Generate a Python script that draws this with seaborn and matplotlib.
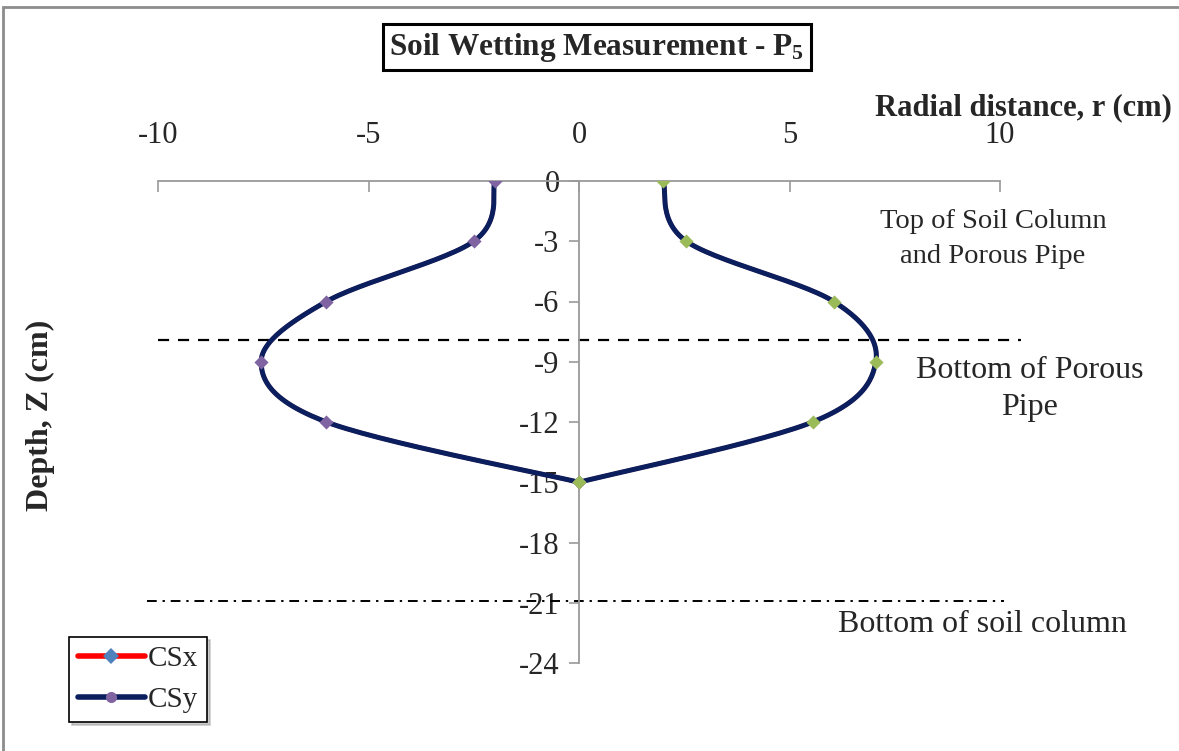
import numpy as np
import pandas as pd
import matplotlib
matplotlib.use("Agg")
import matplotlib.pyplot as plt
from matplotlib.patches import Rectangle
from matplotlib.lines import Line2D
import seaborn as sns

# Measured wetting front: depth (cm) and radial distance (cm)
depth = [0, -3, -6, -9, -12, -15]
r_left = [-2.0, -2.5, -6.0, -7.55, -6.0, 0.0]
r_right = [2.0, 2.55, 6.05, 7.05, 5.55, 0.0]

x_ticks = [-10, -5, 0, 5, 10]
y_ticks = [0, -3, -6, -9, -12, -15, -18, -21, -24]

pipe_bottom = -7.9
column_bottom = -20.9

sns.set_theme(style="white")
plt.rcParams["font.family"] = ["Liberation Serif", "DejaVu Serif"]
plt.rcParams["mathtext.fontset"] = "custom"
plt.rcParams["mathtext.bf"] = "Liberation Serif:bold"
plt.rcParams["mathtext.rm"] = "Liberation Serif"


def smooth(xs, ys, n=30):
    """Bezier smoothing (Catmull-Rom tangents) through the measured points."""
    p = np.column_stack([xs, ys]).astype(float)
    p = np.vstack([p[0], p, p[-1]])
    out = []
    for i in range(1, len(p) - 2):
        p0, p1, p2, p3 = p[i - 1], p[i], p[i + 1], p[i + 2]
        c1 = p1 + (p2 - p0) / 6.0
        c2 = p2 - (p3 - p1) / 6.0
        t = np.linspace(0, 1, n)[:, None]
        seg = ((1 - t) ** 3) * p1 + 3 * ((1 - t) ** 2) * t * c1 + 3 * (1 - t) * t ** 2 * c2 + t ** 3 * p2
        out.append(seg if i == 1 else seg[1:])
    out = np.vstack(out)
    return out[:, 0], out[:, 1]


fig = plt.figure(figsize=(11.79, 7.51), dpi=100)
fig.patch.set_facecolor("white")
fig.add_artist(Rectangle((3 / 1179, -0.1), 1.2, 1 - 7 / 751 + 0.1, transform=fig.transFigure,
                         fill=False, edgecolor="#8c8c8c", lw=2.0, zorder=0))

ax = fig.add_axes([158 / 1179, 1 - 663 / 751, 842 / 1179, 482 / 751])
ax.set_facecolor("none")

navy = "#0b1f5e"
red = "#ff0000"

lx, ly = smooth(r_left, depth)
rx, ry = smooth(r_right, depth)
curve_left = pd.DataFrame({"r": lx, "z": ly})
curve_right = pd.DataFrame({"r": rx, "z": ry})

for cur in (curve_left, curve_right):
    sns.lineplot(data=cur, x="r", y="z", sort=False, estimator=None, ax=ax,
                 color=red, lw=3.0, zorder=3)
    sns.lineplot(data=cur, x="r", y="z", sort=False, estimator=None, ax=ax,
                 color=navy, lw=3.6, zorder=4)

ax.scatter(r_left, depth, marker="D", s=52, color="#8064A2", zorder=5, linewidths=0)
ax.scatter(r_right, depth, marker="D", s=52, color="#9BBB59", zorder=5, linewidths=0)

# Reference levels
ax.plot([-10.0, 10.5], [pipe_bottom, pipe_bottom], color="black", lw=1.6,
        dashes=(5, 4), clip_on=False, zorder=2)
ax.plot([-10.25, 10.1], [column_bottom, column_bottom], color="black", lw=1.4,
        dashes=(5, 3, 1.2, 3), clip_on=False, zorder=2)

ax.set_xlim(-10, 10)
ax.set_ylim(-24, 0)
ax.set_xticks(x_ticks)
ax.set_xticklabels([str(v) for v in x_ticks])
ax.set_yticks(y_ticks)
ax.set_yticklabels([str(v) for v in y_ticks])

for s in ("right", "bottom"):
    ax.spines[s].set_visible(False)
ax.spines["left"].set_position(("data", 0))
for s in ("left", "top"):
    ax.spines[s].set_color("#9a9a9a")
    ax.spines[s].set_linewidth(1.3)
ax.xaxis.tick_top()
ax.tick_params(axis="x", direction="in", length=8, width=1.2, color="#9a9a9a",
               labelsize=22, pad=22, top=True, bottom=False)
ax.tick_params(axis="y", direction="out", length=7, width=1.2, color="#9a9a9a",
               labelsize=22, pad=7, left=True)
ax.set_xlabel("")
ax.set_ylabel("")
ax.grid(False)

fig.text(1172 / 1179, 1 - 108 / 751, "Radial distance, r (cm)", ha="right", va="center",
         fontsize=22, fontweight="bold")
fig.text(40 / 1179, 1 - 415 / 751, "Depth, Z (cm)", ha="center", va="center",
         rotation=90, fontsize=23, fontweight="bold")

fig.text(597 / 1179, 1 - 47 / 751, r"Soil Wetting Measurement - $\mathbf{P_5}$",
         ha="center", va="center", fontsize=22.5, fontweight="bold",
         bbox=dict(boxstyle="square,pad=0.22", facecolor="white", edgecolor="black", lw=2.2))

fig.text(993 / 1179, 1 - 239 / 751, "Top of Soil Column\nand Porous Pipe", ha="center",
         va="center", fontsize=20.5, linespacing=1.5)
fig.text(1030 / 1179, 1 - 389 / 751, "Bottom of Porous\nPipe", ha="center",
         va="center", fontsize=23, linespacing=1.35)
fig.text(982 / 1179, 1 - 625 / 751, "Bottom of soil column", ha="center",
         va="center", fontsize=23)

# Legend
handles = [
    Line2D([], [], color=red, lw=4, marker="D", markersize=8, markerfacecolor="#4F81BD",
           markeredgewidth=0),
    Line2D([], [], color=navy, lw=4, marker="o", markersize=8, markerfacecolor="#8064A2",
           markeredgewidth=0),
]
leg = fig.legend(handles, ["CSx", "CSy"], loc="lower left",
                 bbox_to_anchor=(69 / 1179, 1 - 722 / 751), fontsize=21, frameon=True,
                 fancybox=False, shadow={"ox": 2, "oy": -2, "color": "#9a9a9a"},
                 handlelength=2.3, handletextpad=0.1,
                 borderpad=0.3, labelspacing=0.5, borderaxespad=0)
leg.get_frame().set_edgecolor("black")
leg.get_frame().set_linewidth(1.2)

fig.savefig("out.png", dpi=100, facecolor="white")
